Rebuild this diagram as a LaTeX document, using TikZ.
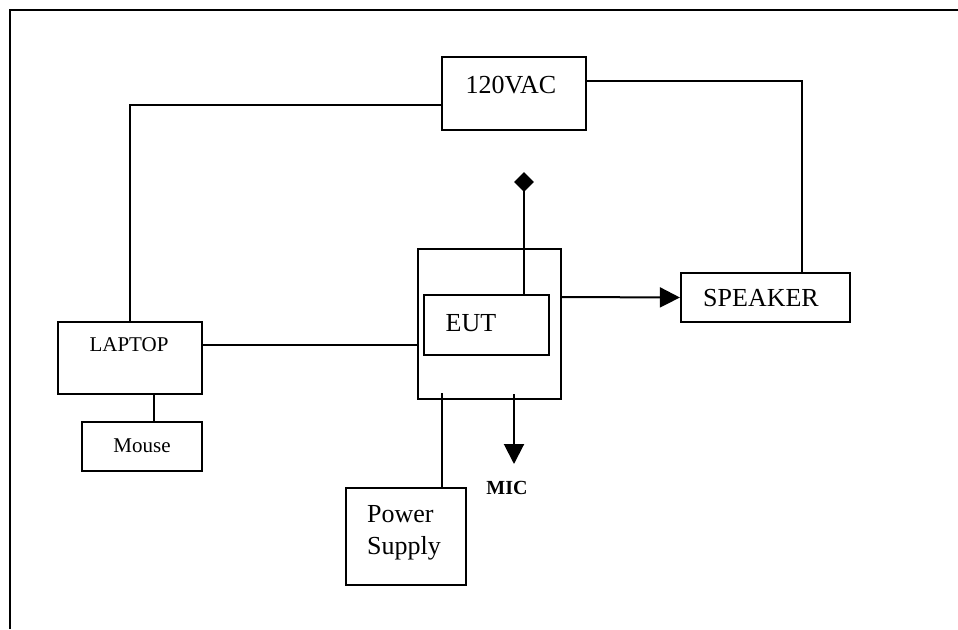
\documentclass[tikz,border=0pt]{standalone}
\usepackage{fontspec}
\setmainfont{Liberation Serif}
\usetikzlibrary{arrows.meta,shapes.geometric}
\begin{document}
\begin{tikzpicture}[x=1pt,y=-1pt,
  box/.style={draw,line width=2.2pt,inner sep=0pt,minimum width=#1},
  wire/.style={line width=2pt},
  arr/.style={line width=2pt,-{Triangle[length=20pt,width=20pt]}},
  big/.style={font=\fontsize{26}{32}\selectfont,inner sep=0pt},
  small/.style={font=\fontsize{21}{25}\selectfont,inner sep=0pt}]
\useasboundingbox (0,0) rectangle (958,629);
% frame
\draw[line width=2pt] (10,629) -- (10,10) -- (958,10);
% boxes
\node[box=144pt,minimum height=73pt] (ac) at (514,93.5) {};
\node[box=144pt,minimum height=72pt] (laptop) at (130,358) {};
\node[box=120pt,minimum height=49pt] (mouse) at (142,446.5) {};
\node[box=169pt,minimum height=49pt] (speaker) at (765.5,297.5) {};
\node[box=143pt,minimum height=150pt] (eutouter) at (489.5,324) {};
\node[box=125pt,minimum height=60pt] (eut) at (486.5,325) {};
\node[box=120pt,minimum height=97pt] (psu) at (406,536.5) {};
\node[diamond,fill=black,inner sep=0pt,minimum size=20pt] (dia) at (524,182) {};
% texts
\node[big] (tac) at (511,85) {120VAC};
\node[small] (tlaptop) at (129,345) {LAPTOP};
\node[small] (tmouse) at (142,446) {Mouse};
\node[big] (tspeaker) at (761,298) {SPEAKER};
\node[big] (teut) at (471,323) {EUT};
\node[big,anchor=west,align=left] (tpsu) at (367,533) {Power\\Supply};
\node[font=\fontsize{20}{24}\selectfont\bfseries,inner sep=0pt] (mic) at (507,488) {MIC};
% connectors
\draw[wire] ([yshift=-11.5pt]ac.west) -| (laptop.north);
\draw[wire] ([yshift=12.5pt]ac.east) -| ([xshift=36.5pt]speaker.north);
\draw[wire] ([yshift=13pt]laptop.east) -- ([yshift=-21pt]eutouter.west);
\draw[wire] ([xshift=24pt]laptop.south) -- ([xshift=12pt]mouse.north);
\draw[arr] ([yshift=27pt]eutouter.east) -- (speaker.west);
\draw[wire] (dia.center) -- ([xshift=37.5pt]eut.north);
\draw[wire] ([xshift=-47.5pt,yshift=7pt]eutouter.south) -- ([xshift=36pt]psu.north);
\coordinate (mictip) at (514,464);
\draw[arr] ([xshift=24.5pt,yshift=6pt]eutouter.south) -- (mictip);
\end{tikzpicture}
\end{document}
